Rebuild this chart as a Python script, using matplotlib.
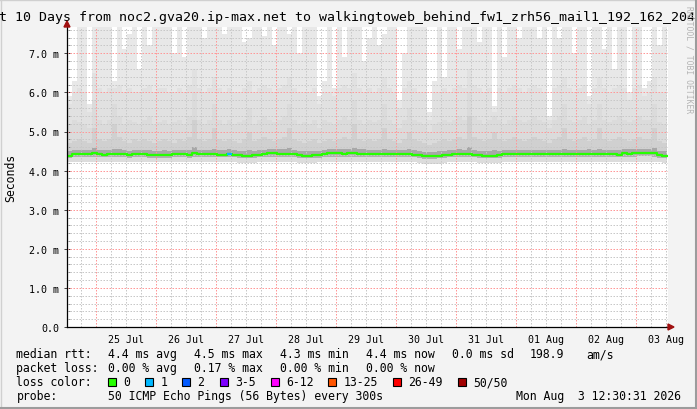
import matplotlib
matplotlib.use("Agg")
import matplotlib.pyplot as plt
import numpy as np
from matplotlib.patches import Rectangle, Polygon
from matplotlib.lines import Line2D

W, H, DPI = 697, 410, 100

# ---------------- data ----------------
title = "Last 10 Days from noc2.gva20.ip-max.net to walkingtoweb_behind_fw1_zrh56_mail1_192_162_204"
y_label = "Seconds"
day_labels = ["25 Jul", "26 Jul", "27 Jul", "28 Jul", "29 Jul",
              "30 Jul", "31 Jul", "01 Aug", "02 Aug", "03 Aug"]
y_tick_values = [0, 1, 2, 3, 4, 5, 6, 7]
y_tick_labels = ["0.0", "1.0 m", "2.0 m", "3.0 m", "4.0 m", "5.0 m", "6.0 m", "7.0 m"]

start_hour = -11.5   # hours relative to 25 Jul 00:00 (24 Jul 12:30)
step_hours = 2.0     # one value every 2 hours

# median rtt in ms
median_ms = [
    4.38, 4.42, 4.42, 4.42, 4.42, 4.44, 4.42, 4.41, 4.42, 4.43,
    4.43, 4.42, 4.40, 4.42, 4.42, 4.42, 4.40, 4.40, 4.40, 4.40,
    4.40, 4.42, 4.42, 4.42, 4.40, 4.45, 4.42, 4.42, 4.42, 4.42,
    4.41, 4.41, 4.43, 4.41, 4.39, 4.38, 4.38, 4.39, 4.41, 4.42,
    4.44, 4.44, 4.43, 4.43, 4.43, 4.42, 4.40, 4.38, 4.38, 4.39,
    4.40, 4.42, 4.44, 4.44, 4.44, 4.43, 4.44, 4.44, 4.43, 4.43,
    4.42, 4.42, 4.42, 4.42, 4.42, 4.42, 4.42, 4.42, 4.42, 4.41,
    4.39, 4.37, 4.37, 4.37, 4.38, 4.39, 4.41, 4.42, 4.43, 4.42,
    4.42, 4.41, 4.40, 4.38, 4.38, 4.38, 4.39, 4.42, 4.42, 4.42,
    4.42, 4.42, 4.42, 4.42, 4.42, 4.42, 4.42, 4.42, 4.42, 4.42,
    4.42, 4.42, 4.42, 4.42, 4.43, 4.42, 4.42, 4.42, 4.42, 4.42,
    4.41, 4.44, 4.43, 4.44, 4.45, 4.45, 4.45, 4.44, 4.40, 4.38,
]

# lost pings (of 50) per interval
loss_pings = [
    0, 0, 0, 0, 0, 0, 0, 0, 0, 0,
    0, 0, 0, 0, 0, 0, 0, 0, 0, 0,
    0, 0, 0, 0, 0, 0, 0, 0, 0, 0,
    0, 0, 1, 0, 0, 0, 0, 0, 0, 0,
    0, 0, 0, 0, 0, 0, 0, 0, 0, 0,
    0, 0, 0, 0, 0, 0, 0, 0, 0, 0,
    0, 0, 0, 0, 0, 0, 0, 0, 0, 0,
    0, 0, 0, 0, 0, 0, 0, 0, 0, 0,
    0, 0, 0, 0, 0, 0, 0, 0, 0, 0,
    0, 0, 0, 0, 0, 0, 0, 0, 0, 0,
    0, 0, 0, 0, 0, 0, 0, 0, 0, 0,
    0, 0, 0, 0, 0, 0, 0, 0, 0, 0,
]

# smoke: ping distribution per interval (ms)
smoke_min = [
    4.22, 4.22, 4.23, 4.22, 4.22, 4.21, 4.22, 4.22, 4.22, 4.22,
    4.22, 4.22, 4.21, 4.22, 4.22, 4.22, 4.21, 4.21, 4.21, 4.21,
    4.21, 4.22, 4.22, 4.22, 4.21, 4.22, 4.22, 4.22, 4.22, 4.22,
    4.22, 4.22, 4.22, 4.21, 4.20, 4.20, 4.20, 4.20, 4.21, 4.22,
    4.22, 4.22, 4.22, 4.22, 4.21, 4.21, 4.20, 4.19, 4.19, 4.20,
    4.21, 4.22, 4.22, 4.22, 4.22, 4.22, 4.22, 4.22, 4.22, 4.22,
    4.22, 4.22, 4.22, 4.22, 4.22, 4.22, 4.22, 4.22, 4.22, 4.21,
    4.19, 4.17, 4.17, 4.17, 4.18, 4.19, 4.21, 4.22, 4.22, 4.22,
    4.22, 4.21, 4.20, 4.19, 4.19, 4.19, 4.20, 4.22, 4.22, 4.22,
    4.22, 4.22, 4.22, 4.22, 4.22, 4.22, 4.22, 4.22, 4.22, 4.22,
    4.22, 4.22, 4.22, 4.22, 4.22, 4.22, 4.22, 4.22, 4.22, 4.22,
    4.22, 4.23, 4.22, 4.23, 4.23, 4.23, 4.23, 4.23, 4.21, 4.20,
]
smoke_q25 = [
    4.33, 4.35, 4.35, 4.35, 4.35, 4.36, 4.35, 4.34, 4.35, 4.35,
    4.35, 4.35, 4.33, 4.35, 4.35, 4.35, 4.33, 4.33, 4.33, 4.33,
    4.33, 4.35, 4.35, 4.35, 4.33, 4.36, 4.35, 4.35, 4.35, 4.35,
    4.34, 4.34, 4.35, 4.34, 4.32, 4.31, 4.31, 4.32, 4.34, 4.35,
    4.36, 4.36, 4.35, 4.35, 4.35, 4.35, 4.33, 4.31, 4.31, 4.32,
    4.33, 4.35, 4.36, 4.36, 4.36, 4.35, 4.36, 4.36, 4.35, 4.35,
    4.35, 4.35, 4.35, 4.35, 4.35, 4.35, 4.35, 4.35, 4.35, 4.34,
    4.32, 4.30, 4.30, 4.30, 4.31, 4.32, 4.34, 4.35, 4.35, 4.35,
    4.35, 4.34, 4.33, 4.31, 4.31, 4.31, 4.32, 4.35, 4.35, 4.35,
    4.35, 4.35, 4.35, 4.35, 4.35, 4.35, 4.35, 4.35, 4.35, 4.35,
    4.35, 4.35, 4.35, 4.35, 4.35, 4.35, 4.35, 4.35, 4.35, 4.35,
    4.34, 4.36, 4.35, 4.36, 4.37, 4.37, 4.37, 4.36, 4.33, 4.31,
]
smoke_q60 = [
    4.50, 4.53, 4.53, 4.53, 4.53, 4.57, 4.53, 4.52, 4.53, 4.56,
    4.54, 4.53, 4.51, 4.53, 4.53, 4.53, 4.52, 4.51, 4.51, 4.52,
    4.51, 4.53, 4.53, 4.53, 4.52, 4.60, 4.53, 4.53, 4.53, 4.56,
    4.52, 4.52, 4.54, 4.52, 4.50, 4.49, 4.52, 4.50, 4.52, 4.53,
    4.55, 4.55, 4.54, 4.54, 4.57, 4.53, 4.51, 4.49, 4.49, 4.50,
    4.51, 4.53, 4.55, 4.55, 4.55, 4.54, 4.55, 4.59, 4.54, 4.54,
    4.53, 4.53, 4.53, 4.56, 4.53, 4.53, 4.53, 4.53, 4.55, 4.52,
    4.50, 4.48, 4.48, 4.48, 4.49, 4.50, 4.52, 4.53, 4.54, 4.53,
    4.60, 4.52, 4.51, 4.49, 4.49, 4.52, 4.50, 4.53, 4.53, 4.53,
    4.53, 4.53, 4.53, 4.53, 4.53, 4.53, 4.52, 4.53, 4.53, 4.56,
    4.53, 4.53, 4.53, 4.53, 4.54, 4.53, 4.56, 4.53, 4.53, 4.53,
    4.52, 4.55, 4.54, 4.55, 4.56, 4.56, 4.56, 4.58, 4.51, 4.49,
]
smoke_q80 = [
    4.70, 4.75, 4.80, 4.75, 4.70, 5.10, 4.80, 4.75, 4.80, 5.20,
    4.85, 4.75, 4.70, 4.80, 4.75, 4.80, 4.75, 4.70, 4.75, 4.80,
    4.75, 4.70, 4.80, 4.75, 4.85, 5.30, 4.80, 4.75, 4.80, 5.10,
    4.80, 4.75, 4.80, 4.75, 4.70, 4.80, 5.00, 4.75, 4.80, 4.85,
    4.80, 4.75, 4.80, 4.85, 5.10, 4.80, 4.75, 4.70, 4.75, 4.80,
    4.70, 4.75, 4.80, 4.75, 4.80, 4.85, 4.80, 5.20, 4.80, 4.75,
    4.80, 4.75, 4.80, 5.10, 4.80, 4.75, 4.70, 4.80, 5.00, 4.80,
    4.75, 4.70, 4.65, 4.70, 4.75, 4.80, 4.75, 4.80, 4.85, 4.80,
    5.40, 4.85, 4.80, 4.75, 4.80, 5.00, 4.80, 4.75, 4.80, 4.85,
    4.80, 4.75, 4.80, 4.85, 4.80, 4.75, 4.70, 4.80, 4.85, 5.10,
    4.80, 4.75, 4.80, 4.85, 4.75, 4.80, 5.10, 4.80, 4.75, 4.80,
    4.85, 4.80, 4.75, 4.80, 4.85, 4.80, 4.80, 5.10, 4.75, 4.70,
]
smoke_q90 = [
    5.20, 5.30, 5.25, 5.20, 5.10, 5.80, 5.30, 5.20, 5.30, 5.70,
    5.40, 5.20, 5.30, 5.25, 5.20, 5.30, 5.40, 5.20, 5.25, 5.30,
    5.20, 5.25, 5.30, 5.20, 5.40, 6.00, 5.30, 5.20, 5.30, 5.70,
    5.30, 5.20, 5.30, 5.20, 5.25, 5.30, 5.60, 5.20, 5.30, 5.40,
    5.30, 5.25, 5.30, 5.40, 5.70, 5.30, 5.20, 5.25, 5.20, 5.30,
    5.10, 5.30, 5.25, 5.20, 5.30, 5.40, 5.30, 5.80, 5.30, 5.20,
    5.30, 5.25, 5.30, 5.70, 5.30, 5.20, 5.10, 5.30, 5.60, 5.30,
    5.25, 5.20, 5.00, 5.20, 5.25, 5.30, 5.25, 5.30, 5.40, 5.30,
    6.00, 5.40, 5.30, 5.20, 5.30, 5.40, 5.30, 5.20, 5.30, 5.40,
    5.30, 5.25, 5.30, 5.40, 5.30, 5.25, 5.10, 5.30, 5.40, 5.70,
    5.30, 5.25, 5.30, 5.40, 5.20, 5.30, 5.70, 5.30, 5.25, 5.30,
    5.40, 5.30, 5.25, 5.30, 5.40, 5.30, 5.30, 5.70, 5.25, 5.20,
]
smoke_q95 = [
    5.70, 6.00, 6.10, 6.00, 5.50, 6.50, 6.10, 6.00, 6.10, 6.10,
    6.20, 6.00, 6.10, 6.00, 6.00, 6.10, 6.20, 6.00, 6.10, 6.10,
    6.00, 6.00, 6.10, 6.00, 6.20, 6.60, 6.10, 6.00, 6.10, 6.40,
    6.10, 6.00, 6.10, 6.00, 6.00, 6.10, 6.30, 6.00, 6.10, 6.20,
    6.10, 6.00, 6.10, 6.20, 6.40, 6.10, 6.00, 6.00, 6.00, 6.10,
    5.70, 6.00, 6.00, 5.90, 6.10, 6.20, 6.10, 6.50, 6.10, 6.00,
    6.10, 6.00, 6.10, 6.40, 6.10, 6.00, 5.60, 6.10, 6.30, 6.10,
    6.00, 6.00, 5.30, 6.00, 6.00, 6.10, 6.00, 6.10, 6.20, 6.10,
    6.60, 6.20, 6.10, 6.00, 6.10, 5.50, 6.10, 6.00, 6.10, 6.20,
    6.10, 6.00, 6.10, 6.20, 6.10, 6.00, 5.30, 6.10, 6.20, 6.40,
    6.10, 6.00, 6.10, 6.20, 5.70, 6.10, 6.40, 6.10, 6.00, 6.10,
    6.20, 6.10, 5.80, 6.10, 6.20, 5.90, 6.00, 6.40, 6.00, 6.00,
]
smoke_max = [
    5.90, 6.30, 7.90, 7.90, 5.70, 7.90, 7.90, 7.90, 7.90, 6.30,
    7.90, 7.10, 7.50, 7.90, 6.60, 7.90, 7.20, 7.90, 7.90, 7.90,
    7.90, 7.00, 7.90, 6.90, 7.90, 7.90, 7.90, 7.40, 7.90, 7.90,
    7.90, 7.50, 7.90, 7.90, 7.90, 7.30, 7.40, 7.90, 7.90, 7.45,
    7.90, 7.20, 7.90, 7.90, 7.50, 7.90, 7.00, 7.90, 7.90, 7.90,
    5.90, 6.30, 7.90, 6.10, 7.90, 6.90, 7.90, 7.90, 7.90, 6.80,
    7.40, 7.90, 7.20, 7.50, 7.90, 7.90, 5.80, 7.00, 7.90, 7.90,
    7.90, 7.90, 5.50, 6.30, 7.90, 6.40, 7.90, 7.90, 7.10, 7.90,
    7.90, 7.90, 7.30, 7.90, 7.90, 5.65, 7.90, 6.90, 7.90, 7.90,
    7.40, 7.90, 7.90, 7.90, 7.40, 7.90, 5.40, 7.90, 7.40, 7.90,
    7.90, 7.00, 7.90, 7.90, 5.90, 7.90, 7.90, 7.10, 7.90, 6.60,
    7.90, 7.90, 6.00, 7.90, 7.90, 6.10, 6.30, 7.90, 7.20, 7.90,
]

# legend statistics
rtt_stats = ["4.4 ms avg", "4.5 ms max", "4.3 ms min", "4.4 ms now", "0.0 ms sd", "198.9", "am/s"]
loss_stats = ["0.00 % avg", "0.17 % max", "0.00 % min", "0.00 % now"]
loss_labels = ["0", "1", "2", "3-5", "6-12", "13-25", "26-49", "50/50"]
loss_colors = ["#26ff00", "#00b8ff", "#0059ff", "#7e00ff", "#ff00ff", "#ff5500", "#ff0000", "#a10000"]
loss_thresholds = [0, 1, 2, 3, 6, 13, 26, 50]
probe_text = "50 ICMP Echo Pings (56 Bytes) every 300s"
timestamp = "Mon Aug  3 12:30:31 2026"

# ---------------- figure ----------------
plt.rcParams["font.family"] = ["DejaVu Sans Mono"]
fig = plt.figure(figsize=(W / DPI, H / DPI), dpi=DPI)
fig.patch.set_facecolor("#f3f3f3")

def px(x, y):
    return x / W, 1 - y / H

ax_l, ax_r, ax_t, ax_b = 67, 668, 28, 328
ax = fig.add_axes([ax_l / W, (H - ax_b) / H, (ax_r - ax_l) / W, (ax_b - ax_t) / H])
ax.set_facecolor("white")

n = len(median_ms)
edges = start_hour + step_hours * np.arange(n + 1)
xmax = start_hour + (ax_r - ax_l) / 2.5   # 2.5 px per hour
ymax = (ax_b - ax_t) / 39.1               # 39.1 px per ms
ax.set_xlim(start_hour, xmax)
ax.set_ylim(0, ymax)

def ext(v):
    v = np.asarray(v, dtype=float)
    return np.append(v, v[-1])

layers = [
    (smoke_min, smoke_q25, "#dcdcdc"),
    (smoke_q25, median_ms, "#b0b0b0"),
    (median_ms, smoke_q60, "#a8a8a8"),
    (smoke_q60, smoke_q80, "#d0d0d0"),
    (smoke_q80, smoke_q90, "#dbdbdb"),
    (smoke_q90, smoke_q95, "#e1e1e1"),
    (smoke_q95, smoke_max, "#e8e8e8"),
]
for lo, hi, c in layers:
    ax.fill_between(edges, ext(lo), np.minimum(ext(hi), ymax), step="post",
                    color=c, linewidth=0, antialiased=False, zorder=1)

# grid (dotted)
dot = (0, (1.5, 1.5))
for h in np.arange(-6, xmax, 6):
    if h % 24 != 0:
        ax.axvline(h, color="#c8c8c8", lw=0.72, ls=dot, zorder=2)
for k in np.arange(0.2, ymax, 0.2):
    if abs(k - round(k)) > 1e-6:
        ax.axhline(k, color="#c8c8c8", lw=0.72, ls=dot, zorder=2)
for h in np.arange(0, xmax, 24):
    ax.axvline(h, color="#ff9898", lw=0.72, ls=dot, zorder=2.1)
for k in y_tick_values[1:]:
    ax.axhline(k, color="#ff9898", lw=0.72, ls=dot, zorder=2.1)

# median line coloured by loss
ax.step(edges, ext(median_ms), where="post", color=loss_colors[0], lw=1.6, zorder=4)
for i, lp in enumerate(loss_pings):
    if lp > 0:
        ci = max(j for j, t in enumerate(loss_thresholds) if lp >= t)
        ax.hlines(median_ms[i], edges[i], edges[i + 1], color=loss_colors[ci], lw=1.6, zorder=5)

# axes styling
for s in ["top", "right"]:
    ax.spines[s].set_visible(False)
ax.spines["left"].set_color("black")
ax.spines["bottom"].set_color("black")
ax.spines["left"].set_linewidth(0.9)
ax.spines["bottom"].set_linewidth(0.9)
ax.spines["left"].set_zorder(6)
ax.spines["bottom"].set_zorder(6)

ax.set_yticks(y_tick_values)
ax.set_yticklabels(y_tick_labels)
ax.set_yticks(np.arange(0, ymax, 0.2), minor=True)
ax.tick_params(axis="y", which="major", direction="inout", length=4, width=0.7,
               color="#404040", labelsize=7.2, pad=3.5)
ax.tick_params(axis="y", which="minor", direction="in", length=2, width=0.6, color="#808080")

ax.set_xticks(12 + 24 * np.arange(len(day_labels)))
ax.set_xticklabels(day_labels)
ax.tick_params(axis="x", which="major", length=0, labelsize=7.2, pad=5)
ax.tick_params(axis="x", which="minor", length=0)

# arrows
arrow_c = "#a01010"
fig.add_artist(Polygon([px(ax_l - 3, ax_t), px(ax_l + 3, ax_t), px(ax_l, ax_t - 6)],
                       closed=True, transform=fig.transFigure, color=arrow_c, zorder=10))
fig.add_artist(Polygon([px(ax_r, ax_b - 3), px(ax_r, ax_b + 3), px(ax_r + 6, ax_b)],
                       closed=True, transform=fig.transFigure, color=arrow_c, zorder=10))

# title (clipped on the left, as in the original)
fig.text(*px(695, 20.5), title, ha="right", va="baseline", fontsize=9.57, color="black")

# y label
fig.text(*px(11, 178), y_label, rotation=90, ha="center", va="center", fontsize=8.3)

# watermark
fig.text(*px(689.5, 60), "RRDTOOL / TOBI OETIKER", rotation=270, ha="center", va="center",
         fontsize=5.8, color="#b4b4b4")

# legend
LF = 8.3
col_x = [107.6, 194, 280, 365.8, 451.6, 530, 586.7]
base = [358.5, 372.5, 386.5, 400.5]
fig.text(*px(16.4, base[0]), "median rtt:", fontsize=LF, va="baseline")
for t, x in zip(rtt_stats, col_x):
    fig.text(*px(x, base[0]), t, fontsize=LF, va="baseline")
fig.text(*px(16.4, base[1]), "packet loss:", fontsize=LF, va="baseline")
for t, x in zip(loss_stats, col_x):
    fig.text(*px(x, base[1]), t, fontsize=LF, va="baseline")
fig.text(*px(16.4, base[2]), "loss color:", fontsize=LF, va="baseline")
box_x = [108.4, 145.3, 182, 219.6, 270.7, 328, 393.3, 457.8]
for lab, c, bx in zip(loss_labels, loss_colors, box_x):
    fig.add_artist(Rectangle(px(bx, 386.5), 8 / W, 8 / H, transform=fig.transFigure,
                             facecolor=c, edgecolor="black", lw=0.8))
    fig.text(*px(bx + 15.2, base[2]), lab, fontsize=LF, va="baseline")
fig.text(*px(16.4, base[3]), "probe:", fontsize=LF, va="baseline")
fig.text(*px(107.6, base[3]), probe_text, fontsize=LF, va="baseline")
fig.text(*px(681, base[3]), timestamp, fontsize=LF, va="baseline", ha="right")

# frame
fig.add_artist(Line2D([0, 1], [1 - 0.5 / H, 1 - 0.5 / H], transform=fig.transFigure, color="#d0d0d0", lw=1.0))
fig.add_artist(Line2D([0.5 / W, 0.5 / W], [0, 1], transform=fig.transFigure, color="#d0d0d0", lw=1.0))
fig.add_artist(Line2D([0, 1], [1 / H, 1 / H], transform=fig.transFigure, color="#9c9c9c", lw=1.5))
fig.add_artist(Line2D([1 - 1 / W, 1 - 1 / W], [0, 1], transform=fig.transFigure, color="#9c9c9c", lw=1.5))

fig.savefig("out.png", dpi=DPI, facecolor=fig.get_facecolor())
